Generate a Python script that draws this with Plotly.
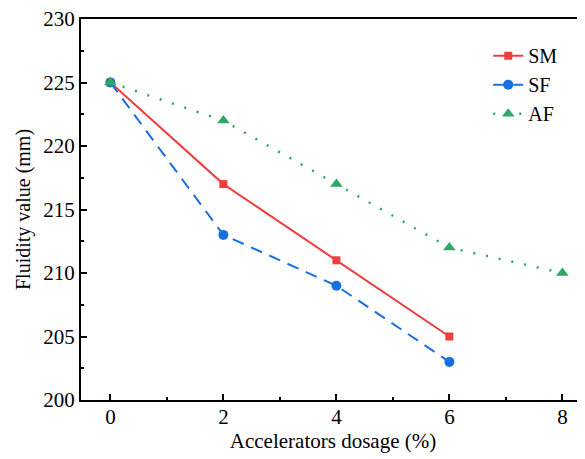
import plotly.graph_objects as go

dosage_sm = [0, 2, 4, 6]
sm = [225, 217, 211, 205]
dosage_sf = [0, 2, 4, 6]
sf = [225, 213, 209, 203]
dosage_af = [0, 2, 4, 6, 8]
af = [225, 222, 217, 212, 210]

font_family = "Times New Roman, Liberation Serif, serif"

fig = go.Figure()
fig.add_trace(go.Scatter(x=dosage_sm, y=sm, name="SM", mode="lines+markers",
                         line=dict(color="#EF3E3E", width=2),
                         marker=dict(symbol="square", size=8, color="#EF3E3E")))
fig.add_trace(go.Scatter(x=dosage_sf, y=sf, name="SF", mode="lines+markers",
                         line=dict(color="#1A6FDF", width=2, dash="12px,8px"),
                         marker=dict(symbol="circle", size=10, color="#1A6FDF")))
fig.add_trace(go.Scatter(x=dosage_af, y=af, name="AF", mode="lines+markers",
                         line=dict(color="#2DA865", width=2.5, dash="2px,11px"),
                         marker=dict(symbol="triangle-up", size=11, color="#2DA865")))

fig.update_layout(
    width=577, height=451,
    margin=dict(l=73, r=0, t=11, b=59),
    paper_bgcolor="white", plot_bgcolor="white",
    font=dict(family=font_family, size=21, color="black"),
    legend=dict(x=0.808, y=0.955, xanchor="left", yanchor="top",
                bgcolor="rgba(0,0,0,0)", font=dict(size=20),
                tracegroupgap=0, itemwidth=30),
    showlegend=True,
)
fig.update_xaxes(
    range=[-0.52, 8.4], tickvals=[0, 2, 4, 6, 8], automargin=False,
    showgrid=False, zeroline=False,
    showline=True, linecolor="black", linewidth=2, mirror=True,
    ticks="inside", ticklen=6, tickwidth=2, tickcolor="black",
    ticklabelstandoff=-3, ticklabeloverflow="allow",
    minor=dict(dtick=1, tick0=0, ticks="inside", ticklen=3, tickwidth=2, tickcolor="black"),
    title=dict(text="Accelerators dosage (%)", font=dict(size=21), standoff=0),
)
fig.update_yaxes(
    range=[200, 230], tickvals=[200, 205, 210, 215, 220, 225, 230], automargin=False,
    showgrid=False, zeroline=False,
    showline=True, linecolor="black", linewidth=2, mirror=False,
    ticks="inside", ticklen=6, tickwidth=2, tickcolor="black",
    ticklabeloverflow="allow",
    minor=dict(dtick=2.5, tick0=200, ticks="inside", ticklen=3, tickwidth=2, tickcolor="black"),
    title=dict(text="Fluidity value (mm)", font=dict(size=20), standoff=7),
)
fig.write_html("out.html")
